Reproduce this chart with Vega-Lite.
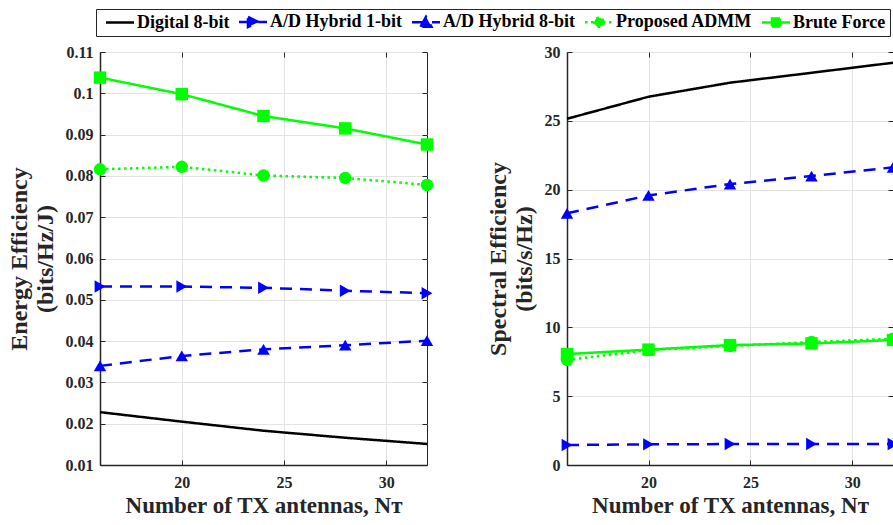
{
  "$schema": "https://vega.github.io/schema/vega-lite/v6.json",
  "padding": {"left": 6, "top": 8, "right": 0, "bottom": 0},
  "bounds": "flush",
  "spacing": 140,
  "background": "white",
  "config": {
    "font": "Liberation Serif",
    "view": {"stroke": "#262626", "strokeWidth": 1},
    "axis": {
      "labelFont": "Liberation Serif", "labelFontSize": 16, "labelFontWeight": "bold", "labelColor": "#262626",
      "titleFont": "Liberation Serif", "titleFontSize": 23, "titleFontWeight": "bold", "titleColor": "#262626",
      "gridColor": "#e3e3e3", "gridWidth": 1, "domainColor": "#262626", "domainWidth": 1.5,
      "tickColor": "#262626", "tickSize": -5, "labelPadding": 12
    }
  },
  "datasets": {
    "ee": [
      {"series": "Digital 8-bit", "n": 16, "v": 0.0228},
      {"series": "Digital 8-bit", "n": 20, "v": 0.0205},
      {"series": "Digital 8-bit", "n": 24, "v": 0.0183},
      {"series": "Digital 8-bit", "n": 28, "v": 0.0166},
      {"series": "Digital 8-bit", "n": 32, "v": 0.0151},
      {"series": "A/D Hybrid 1-bit", "n": 16, "v": 0.0532},
      {"series": "A/D Hybrid 1-bit", "n": 20, "v": 0.0532},
      {"series": "A/D Hybrid 1-bit", "n": 24, "v": 0.0529},
      {"series": "A/D Hybrid 1-bit", "n": 28, "v": 0.0522},
      {"series": "A/D Hybrid 1-bit", "n": 32, "v": 0.0516},
      {"series": "A/D Hybrid 8-bit", "n": 16, "v": 0.0340},
      {"series": "A/D Hybrid 8-bit", "n": 20, "v": 0.0364},
      {"series": "A/D Hybrid 8-bit", "n": 24, "v": 0.0380},
      {"series": "A/D Hybrid 8-bit", "n": 28, "v": 0.0390},
      {"series": "A/D Hybrid 8-bit", "n": 32, "v": 0.0401},
      {"series": "Proposed ADMM", "n": 16, "v": 0.0816},
      {"series": "Proposed ADMM", "n": 20, "v": 0.0822},
      {"series": "Proposed ADMM", "n": 24, "v": 0.0801},
      {"series": "Proposed ADMM", "n": 28, "v": 0.0795},
      {"series": "Proposed ADMM", "n": 32, "v": 0.0778},
      {"series": "Brute Force", "n": 16, "v": 0.1038},
      {"series": "Brute Force", "n": 20, "v": 0.0998},
      {"series": "Brute Force", "n": 24, "v": 0.0945},
      {"series": "Brute Force", "n": 28, "v": 0.0915},
      {"series": "Brute Force", "n": 32, "v": 0.0876}
    ],
    "se": [
      {"series": "Digital 8-bit", "n": 16, "v": 25.15},
      {"series": "Digital 8-bit", "n": 20, "v": 26.75},
      {"series": "Digital 8-bit", "n": 24, "v": 27.77},
      {"series": "Digital 8-bit", "n": 28, "v": 28.49},
      {"series": "Digital 8-bit", "n": 32, "v": 29.22},
      {"series": "A/D Hybrid 1-bit", "n": 16, "v": 1.45},
      {"series": "A/D Hybrid 1-bit", "n": 20, "v": 1.5},
      {"series": "A/D Hybrid 1-bit", "n": 24, "v": 1.52},
      {"series": "A/D Hybrid 1-bit", "n": 28, "v": 1.52},
      {"series": "A/D Hybrid 1-bit", "n": 32, "v": 1.52},
      {"series": "A/D Hybrid 8-bit", "n": 16, "v": 18.28},
      {"series": "A/D Hybrid 8-bit", "n": 20, "v": 19.58},
      {"series": "A/D Hybrid 8-bit", "n": 24, "v": 20.41},
      {"series": "A/D Hybrid 8-bit", "n": 28, "v": 20.99},
      {"series": "A/D Hybrid 8-bit", "n": 32, "v": 21.62},
      {"series": "Proposed ADMM", "n": 16, "v": 7.63},
      {"series": "Proposed ADMM", "n": 20, "v": 8.35},
      {"series": "Proposed ADMM", "n": 24, "v": 8.64},
      {"series": "Proposed ADMM", "n": 28, "v": 8.93},
      {"series": "Proposed ADMM", "n": 32, "v": 9.17},
      {"series": "Brute Force", "n": 16, "v": 8.06},
      {"series": "Brute Force", "n": 20, "v": 8.38},
      {"series": "Brute Force", "n": 24, "v": 8.71},
      {"series": "Brute Force", "n": 28, "v": 8.83},
      {"series": "Brute Force", "n": 32, "v": 9.08}
    ]
  },
  "hconcat": [
    {
      "width": 327, "height": 413,
      "data": {"name": "ee"},
      "layer": [
        {
          "mark": {"type": "line", "strokeWidth": 2.5},
          "encoding": {
            "x": {"field": "n", "type": "quantitative", "scale": {"domain": [16, 32], "nice": false, "zero": false},
                  "axis": {"values": [20, 25, 30], "title": "Number of TX antennas, Nᴛ", "labelPadding": 14, "titlePadding": 4}},
            "y": {"field": "v", "type": "quantitative", "scale": {"domain": [0.01, 0.11], "nice": false, "zero": false},
                  "axis": {"values": [0.01, 0.02, 0.03, 0.04, 0.05, 0.06, 0.07, 0.08, 0.09, 0.1, 0.11], "format": ".2~f",
                           "title": ["Energy Efficiency", "(bits/Hz/J)"], "titleFontSize": 24, "titleLineHeight": 26, "titlePadding": 8}},
            "color": {"field": "series", "type": "nominal",
                      "scale": {"domain": ["Digital 8-bit", "A/D Hybrid 1-bit", "A/D Hybrid 8-bit", "Proposed ADMM", "Brute Force"],
                                "range": ["#000000", "#0000ff", "#0000ff", "#00ff00", "#00ff00"]},
                      "legend": {
                        "title": null, "orient": "none", "legendX": -4, "legendY": -43, "direction": "horizontal", "columns": 5,
                        "symbolSize": 100, "symbolStrokeWidth": 2.5, "labelOffset": 19, "columnPadding": 3, "padding": 4,
                        "strokeColor": "#262626", "fillColor": "white",
                        "labelFont": "Liberation Serif", "labelFontSize": 18, "labelFontWeight": "bold", "labelColor": "#000000",
                        "encode": {
                          "symbols": {
                            "update": {
                              "shape": {"signal": "datum.value === 'Digital 8-bit' ? 'M-0.6,0H5' : datum.value === 'A/D Hybrid 1-bit' ? 'M-0.6,0H5M1.2,-1L3.3,0L1.2,1Z' : datum.value === 'A/D Hybrid 8-bit' ? 'M-0.6,0H5M1.1,0.9L2.2,-1.1L3.3,0.9Z' : datum.value === 'Proposed ADMM' ? 'M-0.6,0H5M3.1,0A0.9,0.9,0,1,1,1.3,0A0.9,0.9,0,1,1,3.1,0Z' : 'M-0.6,0H5M1.4,-0.8H3V0.8H1.4Z'"},
                              "fill": {"scale": "color", "field": "value"},
                              "stroke": {"scale": "color", "field": "value"},
                              "strokeDash": {"signal": "datum.value === 'Proposed ADMM' ? [2, 2.5] : [1, 0]"},
                              "strokeWidth": {"value": 2.5},
                              "opacity": {"value": 1}
                            }
                          }
                        }
                      }},
            "strokeDash": {"field": "series", "type": "nominal",
                           "scale": {"domain": ["Digital 8-bit", "A/D Hybrid 1-bit", "A/D Hybrid 8-bit", "Proposed ADMM", "Brute Force"],
                                     "range": [[1, 0], [12, 8], [12, 8], [2.5, 3.5], [1, 0]]},
                           "legend": null}
          }
        },
        {
          "transform": [{"filter": "datum.series !== 'Digital 8-bit'"}],
          "mark": {"type": "point", "filled": true, "opacity": 1},
          "encoding": {
            "x": {"field": "n", "type": "quantitative", "axis": {"orient": "top", "values": [20, 25, 30], "labels": false, "grid": false, "domain": false, "title": null}},
            "y": {"field": "v", "type": "quantitative", "axis": {"orient": "right", "values": [0.01, 0.02, 0.03, 0.04, 0.05, 0.06, 0.07, 0.08, 0.09, 0.1, 0.11], "labels": false, "grid": false, "domain": false, "title": null}},
            "color": {"field": "series", "type": "nominal"},
            "shape": {"field": "series", "type": "nominal",
                      "scale": {"domain": ["A/D Hybrid 1-bit", "A/D Hybrid 8-bit", "Proposed ADMM", "Brute Force"],
                                "range": ["triangle-right", "triangle-up", "circle", "square"]}, "legend": null},
            "size": {"field": "series", "type": "nominal",
                     "scale": {"domain": ["A/D Hybrid 1-bit", "A/D Hybrid 8-bit", "Proposed ADMM", "Brute Force"],
                               "range": [155, 155, 90, 85]}, "legend": null}
          }
        }
      ],
      "resolve": {"axis": {"x": "independent", "y": "independent"}}
    },
    {
      "width": 326, "height": 413,
      "data": {"name": "se"},
      "layer": [
        {
          "mark": {"type": "line", "strokeWidth": 2.5},
          "encoding": {
            "x": {"field": "n", "type": "quantitative", "scale": {"domain": [16, 32], "nice": false, "zero": false},
                  "axis": {"values": [20, 25, 30], "title": "Number of TX antennas, Nᴛ", "labelPadding": 14, "titlePadding": 4}},
            "y": {"field": "v", "type": "quantitative", "scale": {"domain": [0, 30], "nice": false, "zero": false},
                  "axis": {"values": [0, 5, 10, 15, 20, 25, 30],
                           "title": ["Spectral Efficiency", "(bits/s/Hz)"], "titleFontSize": 24, "titleLineHeight": 26, "titlePadding": 8}},
            "color": {"field": "series", "type": "nominal"},
            "strokeDash": {"field": "series", "type": "nominal", "legend": null}
          }
        },
        {
          "transform": [{"filter": "datum.series !== 'Digital 8-bit'"}],
          "mark": {"type": "point", "filled": true, "opacity": 1},
          "encoding": {
            "x": {"field": "n", "type": "quantitative", "axis": {"orient": "top", "values": [20, 25, 30], "labels": false, "grid": false, "domain": false, "title": null}},
            "y": {"field": "v", "type": "quantitative", "axis": {"orient": "right", "values": [0, 5, 10, 15, 20, 25, 30], "labels": false, "grid": false, "domain": false, "title": null}},
            "color": {"field": "series", "type": "nominal"},
            "shape": {"field": "series", "type": "nominal", "legend": null},
            "size": {"field": "series", "type": "nominal", "legend": null}
          }
        }
      ],
      "resolve": {"axis": {"x": "independent", "y": "independent"}}
    }
  ]
}
